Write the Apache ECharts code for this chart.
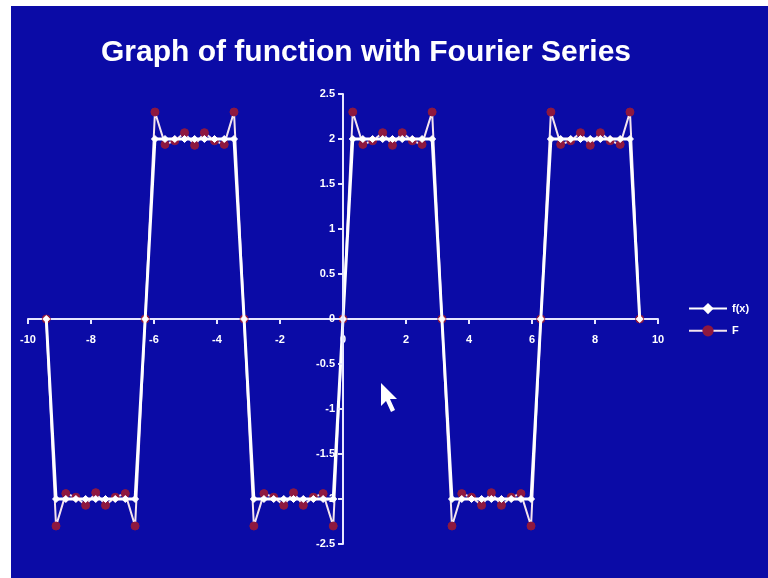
<!DOCTYPE html>
<html>
<head>
<meta charset="utf-8">
<style>
  html, body { margin: 0; padding: 0; background: #ffffff; }
  #chart { width: 768px; height: 578px; }
</style>
<script src="https://cdn.jsdelivr.net/npm/echarts@6/dist/echarts.min.js"></script>
</head>
<body>
<div id="chart"></div>
<script>
// Sample points: multiples of pi/10 from -3pi to 3pi
const xVals = [
  -9.42, -9.11, -8.80, -8.48, -8.17, -7.85, -7.54, -7.23, -6.91, -6.60,
  -6.28, -5.97, -5.65, -5.34, -5.03, -4.71, -4.40, -4.08, -3.77, -3.46,
  -3.14, -2.83, -2.51, -2.20, -1.88, -1.57, -1.26, -0.94, -0.63, -0.31,
   0.00,
   0.31,  0.63,  0.94,  1.26,  1.57,  1.88,  2.20,  2.51,  2.83,  3.14,
   3.46,  3.77,  4.08,  4.40,  4.71,  5.03,  5.34,  5.65,  5.97,  6.28,
   6.60,  6.91,  7.23,  7.54,  7.85,  8.17,  8.48,  8.80,  9.11,  9.42
];

// Square wave f(x)
const fVals = [
   0, -2, -2, -2, -2, -2, -2, -2, -2, -2,
   0,  2,  2,  2,  2,  2,  2,  2,  2,  2,
   0, -2, -2, -2, -2, -2, -2, -2, -2, -2,
   0,
   2,  2,  2,  2,  2,  2,  2,  2,  2,  0,
  -2, -2, -2, -2, -2, -2, -2, -2, -2,  0,
   2,  2,  2,  2,  2,  2,  2,  2,  2,  0
];

// Partial Fourier sum F
const FVals = [
   0,    -2.30, -1.94, -1.98, -2.07, -1.93, -2.07, -1.98, -1.94, -2.30,
   0,     2.30,  1.94,  1.98,  2.07,  1.93,  2.07,  1.98,  1.94,  2.30,
   0,    -2.30, -1.94, -1.98, -2.07, -1.93, -2.07, -1.98, -1.94, -2.30,
   0,
   2.30,  1.94,  1.98,  2.07,  1.93,  2.07,  1.98,  1.94,  2.30,  0,
  -2.30, -1.94, -1.98, -2.07, -1.93, -2.07, -1.98, -1.94, -2.30,  0,
   2.30,  1.94,  1.98,  2.07,  1.93,  2.07,  1.98,  1.94,  2.30,  0
];

const seriesNames = ['f(x)', 'F'];
const titleText = 'Graph of function with Fourier Series';

const slideBlue = '#0b0ba6';
const axisColor = '#e6e6ff';

// plot area
const gridBox = { left: 28, top: 94, width: 630, height: 450 };
// the axes cross at the origin, in the middle of the plot area
const xAxisShift = -gridBox.height / 2;
const yAxisShift = -gridBox.width / 2;

const chart = echarts.init(document.getElementById('chart'), null, { renderer: 'canvas' });

chart.setOption({
  backgroundColor: '#ffffff',
  animation: false,
  graphic: [
    {
      type: 'rect',
      z: -100,
      silent: true,
      shape: { x: 11, y: 6, width: 757, height: 572 },
      style: { fill: slideBlue }
    },
    {
      // mouse pointer
      type: 'polygon',
      z: 100,
      silent: true,
      shape: {
        points: [[381, 383], [381, 406], [386, 401], [391, 412], [395, 410], [390, 399], [397, 399]]
      },
      style: { fill: '#ffffff' }
    }
  ],
  title: {
    text: titleText,
    left: 96,
    top: 33,
    textStyle: {
      color: '#ffffff',
      fontFamily: 'Liberation Sans, Arial, sans-serif',
      fontWeight: 'bold',
      fontSize: 30
    }
  },
  legend: {
    orient: 'vertical',
    left: 683,
    top: 298,
    itemWidth: 38,
    itemHeight: 14,
    itemGap: 11,
    data: seriesNames,
    textStyle: {
      color: '#ffffff',
      fontWeight: 'bold',
      fontSize: 11,
      fontFamily: 'Liberation Sans, Arial, sans-serif'
    }
  },
  grid: Object.assign({}, gridBox, { containLabel: false }),
  xAxis: {
    type: 'value',
    position: 'bottom',
    offset: xAxisShift,
    min: -10,
    max: 10,
    interval: 2,
    axisLine: { onZero: false, lineStyle: { color: axisColor, width: 2 } },
    axisTick: { show: true, inside: false, length: 5, lineStyle: { color: axisColor, width: 2 } },
    axisLabel: {
      color: '#ffffff',
      fontWeight: 'bold',
      fontSize: 11,
      margin: 15,
      fontFamily: 'Liberation Sans, Arial, sans-serif'
    },
    splitLine: { show: false }
  },
  yAxis: {
    type: 'value',
    position: 'left',
    offset: yAxisShift,
    z: 10,
    min: -2.5,
    max: 2.5,
    interval: 0.5,
    axisLine: { onZero: false, lineStyle: { color: axisColor, width: 2 } },
    axisTick: { show: true, inside: false, length: 5, lineStyle: { color: axisColor, width: 2 } },
    axisLabel: {
      color: '#ffffff',
      fontWeight: 'bold',
      fontSize: 11,
      margin: 8,
      fontFamily: 'Liberation Sans, Arial, sans-serif'
    },
    splitLine: { show: false }
  },
  series: [
    {
      name: seriesNames[1],
      type: 'line',
      z: 3,
      data: xVals.map((x, i) => [x, FVals[i]]),
      symbol: 'circle',
      symbolSize: 8,
      itemStyle: { color: '#8e1840', borderColor: '#8e1840' },
      lineStyle: { color: '#f4e4ee', width: 2 }
    },
    {
      name: seriesNames[0],
      type: 'line',
      z: 4,
      data: xVals.map((x, i) => [x, fVals[i]]),
      symbol: 'diamond',
      symbolSize: 7,
      itemStyle: { color: '#ffffff', borderColor: '#ffffff' },
      lineStyle: { color: '#ffffff', width: 3 }
    }
  ]
});
</script>
</body>
</html>
